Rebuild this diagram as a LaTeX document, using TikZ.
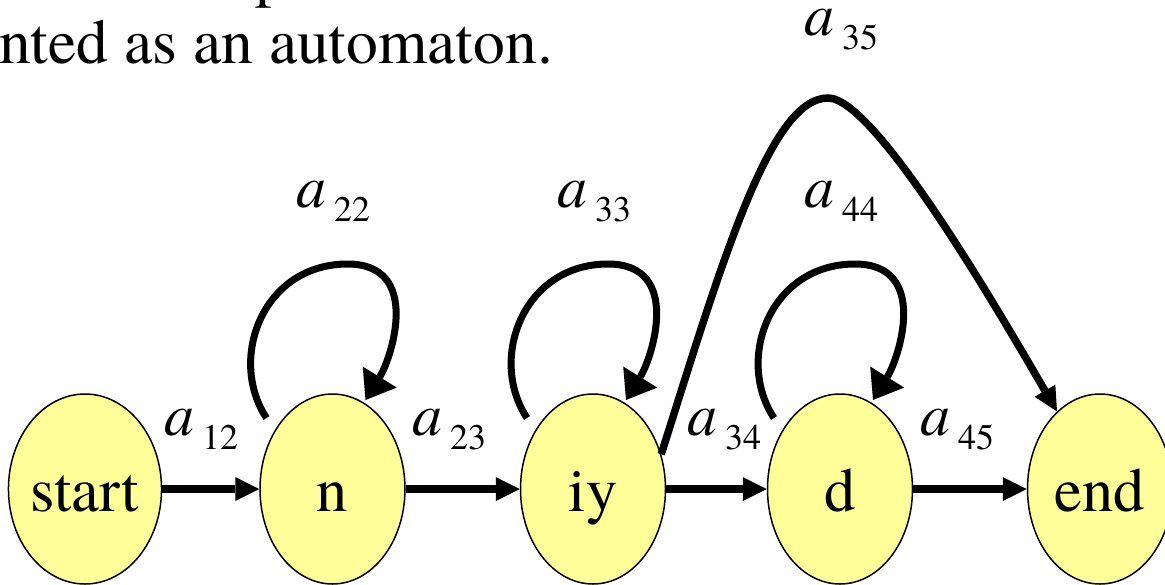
\documentclass[tikz,border=0pt]{standalone}
\usepackage{fontspec}
\setmainfont{TeX Gyre Termes}
\usetikzlibrary{arrows.meta,shapes.geometric}

\definecolor{stateyellow}{HTML}{FFFF99}

% transition label: italic a with a lowered index
\newcommand\tlabel[1]{{\fontsize{60}{64}\selectfont\itshape a}\hspace{8pt}\raisebox{-14pt}{\fontsize{36}{40}\selectfont #1}}

\tikzset{
  stateellipse/.style={ellipse, draw=black, line width=1.5pt, fill=stateyellow,
    minimum width=145pt, minimum height=190pt, inner sep=0pt,
    text height=44pt, text depth=0pt, font=\fontsize{62.5}{70}\selectfont},
  hop/.style={line width=7.5pt, -{Triangle[length=24pt,width=24pt,line width=0pt]}},
  loopedge/.style={line width=7pt, -{Triangle[length=27pt,width=40pt,line width=0pt]}},
  lab/.style={anchor=base west, inner sep=0pt},
  bigtext/.style={anchor=base west, inner sep=0pt, font=\fontsize{63.5}{70}\selectfont},
}

\begin{document}
\begin{tikzpicture}[x=1pt,y=-1pt]
\fill[white] (0,0) rectangle (1165,584);
\useasboundingbox (0,0) rectangle (1165,584);

% caption lines above the automaton
\node[bigtext] (prev) at (255,-6) {p};
\node[bigtext] (caption) at (-1,63) {nted as an automaton.};

% states
\node[stateellipse] (start) at (85,489) {start};
\node[stateellipse] (n) at (332.5,489) {n};
\node[stateellipse] (iy) at (593,489) {iy};
\node[stateellipse] (d) at (840,489) {d};
\node[stateellipse] (final) at (1100,489) {end};

% forward transitions
\draw[hop] (start.east) -- (n.west);
\draw[hop] (n.east) -- (iy.west);
\draw[hop] (iy.east) -- (d.west);
\draw[hop] (d.east) -- (final.west);

% self loops
\foreach \s in {n,iy,d} {
  \begin{scope}[shift={(\s.center)}]
    \draw[loopedge] (-66,-71) .. controls (-105,-130) and (-70,-225) .. (15,-225)
      .. controls (90,-225) and (59,-131) .. (33,-89);
  \end{scope}
}

% skip transition iy -> end
\draw[hop] (iy.27) .. controls (722,262) and (770,98) .. (828,98)
  .. controls (875,98) and (998,310) .. (final.119);

% transition labels
\node[lab] (l12) at (164,435) {\tlabel{12}};
\node[lab] (l23) at (412,435) {\tlabel{23}};
\node[lab] (l34) at (687,435) {\tlabel{34}};
\node[lab] (l45) at (920,435) {\tlabel{45}};
\node[lab] (l22) at (296,207) {\tlabel{22}};
\node[lab] (l33) at (557,207) {\tlabel{33}};
\node[lab] (l44) at (804,207) {\tlabel{44}};
\node[lab] (l35) at (804,35) {\tlabel{35}};
\end{tikzpicture}
\end{document}
